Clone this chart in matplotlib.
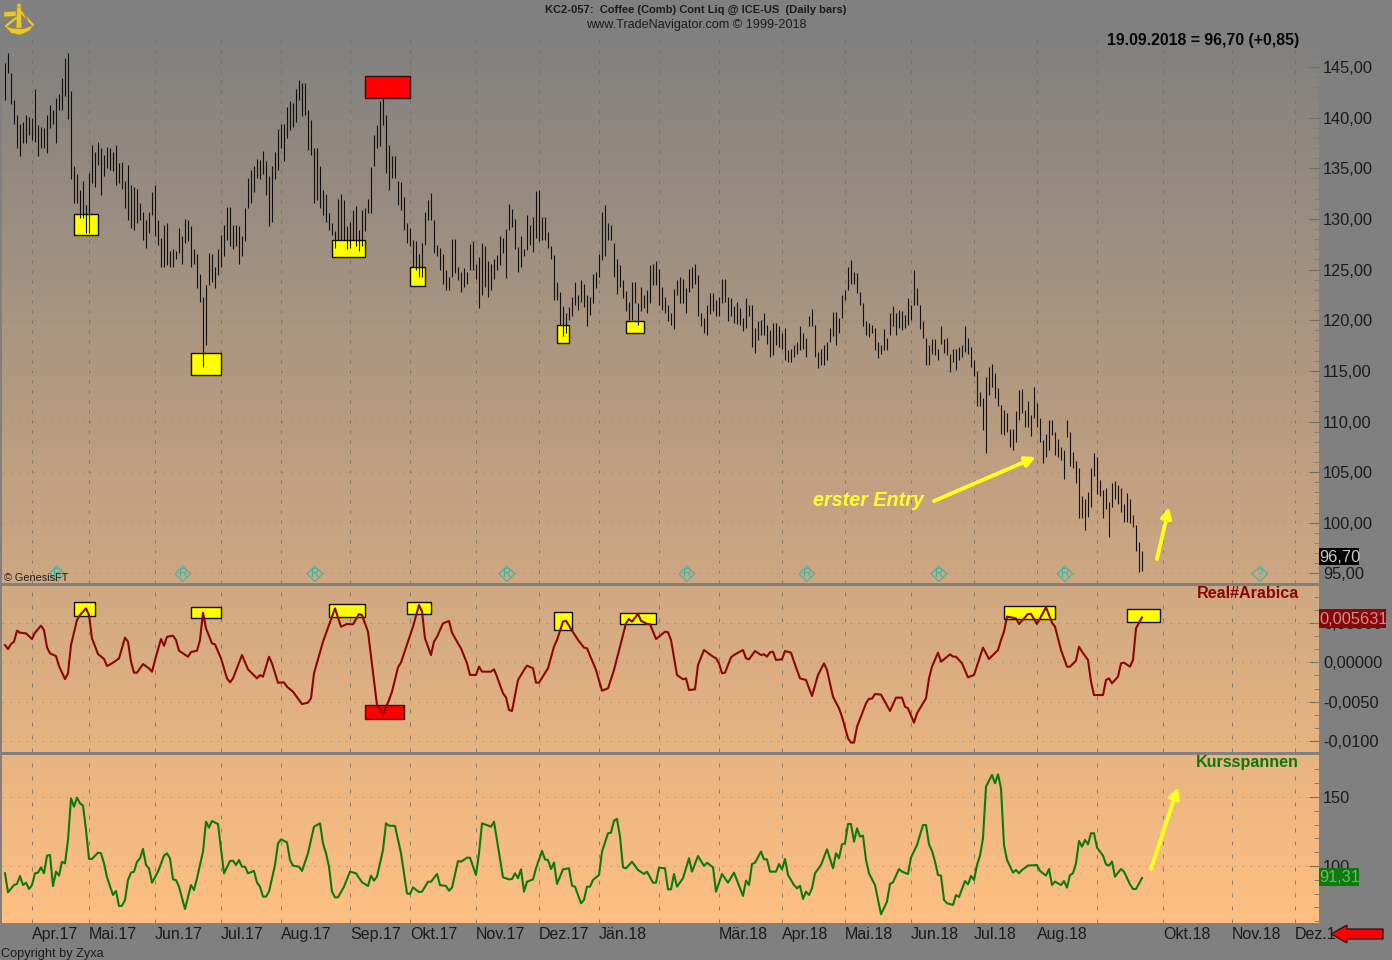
import numpy as np
import matplotlib
matplotlib.use("Agg")
import matplotlib.pyplot as plt
from matplotlib.colors import LinearSegmentedColormap
from matplotlib.patches import Rectangle, Polygon, Circle
from matplotlib.ticker import FixedLocator, FuncFormatter, NullFormatter

plt.rcParams['font.family'] = ['Liberation Sans', 'DejaVu Sans']

# ---------- data ----------
highs = [
145.4,146.4,144.4,141.7,140.3,139.4,139.6,140.3,140.1,140.0,142.8,139.3,139.1,139.0,140.3,141.2,140.8,141.9,142.3,143.9,145.9,146.4,142.6,135.2,134.4,132.9,133.7,131.4,134.5,137.3,136.6,137.6,137.0,136.3,137.1,137.0,136.6,137.3,135.5,135.6,133.7,135.3,133.4,133.2,133.0,131.6,130.7,129.9,130.7,132.7,133.4,129.9,128.1,129.4,129.6,126.8,127.0,126.8,129.1,128.3,130.0,129.9,129.3,127.0,126.5,124.6,122.3,123.5,126.6,126.5,125.3,127.0,128.4,129.4,131.2,131.2,129.4,129.4,129.3,128.3,131.1,134.0,134.8,135.2,135.9,135.8,136.7,135.7,134.2,135.2,136.6,138.9,139.4,139.4,141.1,141.6,141.4,142.8,143.7,143.4,143.4,140.8,139.8,137.0,137.0,135.2,132.9,132.5,130.6,129.6,128.8,132.0,132.5,131.9,129.3,129.7,130.9,131.3,128.9,130.9,131.1,132.0,135.1,138.3,139.3,141.6,143.2,140.3,137.3,136.2,136.2,133.7,133.6,132.2,129.6,129.1,127.9,127.8,126.5,127.6,130.7,131.9,132.6,129.9,127.4,127.1,126.5,125.0,124.3,128.0,128.0,125.3,
124.8,125.2,124.8,127.5,127.8,125.6,126.2,127.6,127.3,125.8,125.6,126.0,126.4,128.3,128.1,129.0,131.5,131.0,130.0,127.2,128.3,127.0,130.4,129.4,130.2,132.8,132.9,130.2,130.2,128.7,127.3,126.4,123.8,122.8,121.4,120.7,121.3,122.3,123.8,122.5,124.0,123.6,122.5,122.3,124.6,124.8,126.5,130.7,131.4,129.6,129.4,127.6,126.0,125.5,124.0,122.9,121.8,123.8,123.8,121.7,123.3,122.5,123.0,125.5,125.6,125.8,125.1,123.3,122.3,121.5,120.7,123.1,124.0,124.3,124.1,123.2,125.1,125.3,125.6,124.5,120.7,120.2,121.5,122.7,122.7,122.0,122.3,124.1,124.1,122.3,122.2,121.4,121.8,121.2,120.2,122.2,121.5,121.5,119.2,119.9,120.0,120.7,119.5,119.0,119.7,119.7,119.4,118.7,119.2,117.1,117.2,117.6,117.9,119.4,118.7,118.2,120.4,121.1,119.5,116.9,117.2,117.6,117.9,119.2,120.8,120.8,120.2,
122.5,123.0,125.3,125.9,124.8,124.7,122.8,121.7,119.9,119.7,119.5,119.2,117.9,117.6,119.1,118.2,120.7,121.4,120.7,121.0,120.9,120.5,122.2,121.5,125.0,123.2,121.5,119.9,118.2,117.6,118.1,118.1,117.2,119.4,118.1,118.2,116.7,117.2,117.2,117.4,117.6,119.4,118.2,117.4,116.1,115.0,112.9,112.3,114.4,115.4,115.7,114.8,113.3,111.6,111.1,110.8,109.3,109.3,111.0,113.1,113.2,111.1,112.0,110.6,113.4,111.8,110.3,108.2,108.8,110.2,110.2,109.0,108.3,107.5,107.2,110.2,109.0,107.0,106.1,105.4,102.6,102.4,103.0,105.4,106.9,106.5,104.2,103.2,103.4,102.1,103.9,104.1,103.7,103.4,101.9,102.9,102.4,100.8,99.8,98.1,97.2]
lows = [
141.7,144.4,141.3,139.4,137.0,136.2,137.5,137.5,138.3,137.8,137.6,136.2,137.0,137.0,136.5,139.0,139.4,137.5,140.8,140.8,142.1,139.9,133.9,131.6,131.6,130.1,130.1,128.6,128.6,133.5,133.2,135.3,132.4,134.2,135.0,134.8,134.7,133.4,133.5,133.0,131.1,129.9,129.1,128.9,129.6,129.9,127.9,127.1,128.6,130.4,128.3,127.4,125.3,125.3,125.5,125.3,125.3,126.0,126.6,125.6,127.6,127.8,125.3,125.6,123.2,121.8,115.4,117.6,123.5,123.8,123.2,124.5,125.3,126.3,127.9,127.3,127.0,127.3,125.6,126.3,127.8,131.1,131.6,132.7,134.0,133.9,134.4,132.4,129.3,129.7,133.9,134.8,137.0,135.7,138.0,138.8,139.1,139.6,141.7,140.2,140.3,136.8,136.3,131.6,131.9,131.1,130.4,129.7,128.9,128.4,127.1,127.9,127.9,127.9,127.0,127.1,127.9,127.3,126.8,127.3,128.8,130.6,130.6,135.2,137.0,137.2,139.3,134.5,132.9,134.0,134.0,131.4,130.9,128.9,127.6,127.3,125.3,125.0,124.3,124.3,127.4,129.9,129.9,126.6,126.3,125.0,123.6,123.0,123.0,124.3,124.7,124.0,
122.8,123.3,123.6,125.0,125.0,124.1,121.2,122.5,123.3,122.3,123.0,124.1,125.0,125.5,126.6,124.2,128.9,129.2,127.0,124.8,125.3,126.3,126.9,127.4,126.7,128.1,127.8,127.9,127.9,127.1,126.0,122.0,122.0,119.5,118.4,118.7,120.0,120.4,121.5,121.0,121.8,121.3,119.4,120.5,121.7,123.2,124.3,125.9,126.3,127.9,127.9,124.3,122.6,123.3,122.2,120.9,120.0,120.0,121.7,119.5,120.9,121.2,120.7,121.7,123.5,123.5,121.5,121.0,120.7,119.9,119.5,119.1,122.5,121.7,121.7,120.7,122.8,123.2,123.6,120.4,119.4,118.7,118.5,120.6,120.9,120.4,120.4,121.7,121.8,119.9,120.4,119.7,119.6,119.5,118.9,119.2,120.4,117.4,116.8,118.0,118.5,118.5,117.7,116.4,116.6,117.6,117.4,117.2,116.1,115.9,115.9,116.4,116.7,117.1,117.2,116.4,119.4,119.4,116.4,115.3,115.6,115.6,116.1,117.9,118.4,117.6,118.7,
120.2,122.0,123.0,123.6,123.6,122.7,121.5,119.4,118.5,118.3,118.7,117.1,116.3,116.7,117.1,117.1,118.5,119.4,118.5,119.2,119.0,119.2,119.5,120.0,121.5,121.5,119.1,118.2,115.6,115.6,116.7,116.6,116.1,117.7,116.8,116.6,114.9,115.9,115.1,116.1,116.4,116.9,116.7,115.4,114.5,111.5,111.5,109.2,106.9,112.6,113.4,112.3,111.5,108.8,108.7,109.0,107.5,107.2,108.0,110.2,110.8,109.5,109.5,108.6,110.3,109.5,108.0,105.9,106.5,107.2,108.7,106.7,106.5,106.2,104.3,108.5,105.6,105.4,103.9,100.5,100.5,99.3,100.6,101.6,104.6,102.8,102.6,100.5,101.4,98.6,101.6,102.4,101.9,101.1,100.1,100.1,100.0,99.6,97.2,95.1,95.2]
assert len(highs) == len(lows)

# oscillator turning points: bar number, value in thousandths
real_bar = [0,1,2,3,4,5,7,9,10,12,13,14,15,17,18,20,21,22,24,25,27,28,29,31,33,34,36,38,40,41,42,43,44,46,48,49,50,52,53,54,56,57,58,61,62,64,65,66,67,69,70,72,74,75,76,79,81,84,85,86,88,89,91,93,94,96,99,101,102,103,106,108,110,112,114,116,118,119,121,123,124,126,128,129,131,132,136,138,139,140,142,143,144,146,148,149,151,
152,154,155,157,158,159,162,163,164,166,167,168,169,171,173,174,176,177,178,181,183,184,186,187,189,191,193,194,197,199,201,203,204,207,208,209,211,212,214,215,217,218,220,221,222,224,226,227,228,230,231,233,234,236,237,238,239,240,242,243,246,247,248,250,252,253,254,255,256,257,259,260,262,263,265,267,269,271,273,274,276,278,
279,281,282,283,284,287,288,289,290,292,295,297,299,300,301,303,304,307,308,309,311,312,313,315,316,317,319,321,323,326,328,331,332,333,334,337,338,341,342,344,347,349,350,352,354,355,357,358,359,361,362,363,366,367,368,369,371,372,373,375,376,377,379]
real_val = [2.15,1.64,2.27,2.57,3.96,3.71,3.62,2.91,3.71,4.6,4.05,1.85,1.09,0.75,-0.51,-2.16,-1.44,2.15,5.31,5.95,6.79,5.95,2.99,1.01,0.38,-0.51,-0.09,0.46,3.08,2.57,0.04,-1.35,-1.35,-0.26,-0.81,-1.23,0.25,2.91,2.06,3.2,3.33,2.78,1.43,0.67,1.26,1.43,2.78,6.24,4.26,2.36,2.23,0.46,-2.07,-2.58,-2.07,0.88,-0.93,-2.07,-1.65,-1.86,0.67,-0.17,-2.62,-2.58,-3.13,-3.76,-5.32,-5.15,-4.6,-1.44,2.57,4.68,6.79,4.47,4.81,4.76,6.07,5.95,3.84,-2.28,-5.45,-6.59,-4.81,-3.76,-0.68,-0.05,4.47,7.21,6.37,2.99,0.88,2.57,3.2,4.89,5.19,3.71,2.36,
1.73,-0.17,-1.64,-1.64,-0.59,-1.22,-1.22,-0.93,-1.85,-3.96,-4.47,-6.07,-6.2,-2.28,-1.01,-0.46,-0.8,-2.61,-2.61,-0.8,1.94,2.79,5.11,5.23,3.97,2.79,1.82,1.73,-1.01,-3.63,-3.33,-1.01,0.47,4.9,5.44,5.11,6.08,5.23,4.81,4.81,2.91,3.21,3.84,3.76,2.79,-1.64,-2.19,-2.07,-3.54,-3.46,-0.38,1.52,1.23,0.68,0.47,-0.17,-1.43,-1.35,0.59,0.89,1.52,0.47,0.34,1.39,0.89,0.97,0.68,1.23,1.31,0.26,0.34,1.39,1.18,0.04,-2.07,-2.28,-4.3,-1.64,-0.17,-1.01,-4.39,-5.86,
-6.92,-9.66,-10.2,-10.2,-8.2,-5.23,-4.64,-4.64,-4.05,-4.13,-6.2,-4.51,-4.51,-5.65,-5.86,-7.68,-6.5,-4.6,-2.07,-0.59,1.18,0.04,0.34,0.97,0.68,0.68,-0.17,-1.94,-1.64,1.82,0.38,1.52,2.79,3.84,5.74,5.53,4.81,6.08,6.08,4.81,6.92,4.98,4.47,1.52,-0.59,-0.59,0.17,1.94,1.31,0.26,-2.49,-4.18,-4.18,-2.28,-2.07,-2.7,-1.85,-0.17,-0.08,-0.59,0.26,4.26,5.631]
assert len(real_bar) == len(real_val)

span_bar = [0,1,3,4,5,6,7,8,9,10,11,12,13,14,15,16,17,18,19,20,21,22,23,24,25,26,27,28,29,31,32,33,34,36,37,38,39,40,41,42,43,44,45,46,47,48,49,51,53,54,55,56,57,58,60,62,63,64,66,67,68,69,71,72,73,75,76,77,78,79,80,81,83,84,85,86,87,88,90,91,92,94,95,96,98,99,101,103,105,106,107,108,109,110,111,113,115,117,119,121,122,123,124,126,127,128,130,132,134,135,136,138,139,141,142,144,145,147,148,149,151,152,
154,155,157,158,159,162,163,166,168,169,170,171,172,173,174,176,177,179,180,181,182,183,184,186,188,189,190,192,193,194,195,196,198,199,201,202,203,204,205,206,207,209,211,213,214,216,217,218,220,221,222,223,224,226,228,229,231,233,234,236,237,239,241,243,246,247,248,249,250,252,253,254,255,257,258,259,260,261,263,264,265,266,267,268,269,270,272,274,276,277,278,
279,280,281,282,283,284,285,286,287,288,290,292,294,295,296,298,299,301,302,304,306,307,308,309,310,311,312,313,314,316,317,318,320,321,322,323,324,325,326,327,329,330,331,332,333,334,336,337,338,339,341,344,345,347,348,349,350,352,353,354,355,356,357,358,359,360,361,362,363,364,366,367,368,369,370,372,373,375,376,377,379]
span_val = [94.7,80.9,86.2,87.0,92.7,86.2,87.9,83.3,86.2,94.7,95.2,99.0,94.7,107.5,108.0,85.5,95.9,93.0,103.1,101.9,118.8,149.0,143.0,149.5,145.4,143.7,126.1,105.1,105.1,109.7,109.2,101.9,91.8,79.0,81.9,71.0,71.2,75.3,89.8,95.2,95.9,103.1,105.5,112.3,100.7,98.3,87.9,95.9,107.5,109.2,105.5,90.3,89.8,85.0,68.8,86.2,82.6,91.1,110.4,132.1,127.8,132.6,130.4,112.8,94.7,103.6,103.9,100.7,104.3,99.5,99.5,94.7,96.4,87.9,85.0,77.8,77.8,81.4,100.7,116.4,119.3,117.1,104.3,100.2,99.5,96.4,109.2,128.5,130.9,116.4,109.2,99.5,81.4,77.3,77.3,85.0,95.9,94.7,88.2,85.5,93.0,89.4,92.3,111.6,130.9,129.2,129.0,109.2,80.2,79.7,84.5,81.1,81.4,88.6,88.6,94.2,86.2,85.5,82.1,84.3,103.6,103.1,
106.0,106.0,93.5,109.2,130.9,128.5,132.1,91.8,90.3,90.6,94.7,91.1,97.6,81.4,88.6,90.3,98.3,110.9,104.8,104.3,97.8,102.4,87.0,97.6,98.3,85.7,85.0,73.0,75.4,85.0,85.0,89.9,93.5,110.4,123.7,124.2,132.8,134.1,121.3,99.0,98.3,103.1,97.1,94.2,95.9,87.9,87.9,98.8,98.3,83.1,83.1,94.2,85.0,91.1,105.6,95.9,107.2,100.0,102.4,99.0,81.4,94.2,87.9,95.2,78.3,89.4,86.2,101.4,102.4,110.4,104.8,104.8,95.9,95.9,101.4,97.6,105.1,93.5,86.2,83.8,85.7,76.1,81.4,79.0,83.8,94.7,100.7,112.1,98.3,109.2,105.6,
115.7,116.4,130.4,130.4,117.6,127.3,121.3,122.0,104.4,94.7,86.2,65.0,74.2,87.0,88.2,97.8,95.9,94.2,106.1,115.2,129.7,129.7,115.7,110.9,103.2,93.5,93.0,75.4,73.0,71.8,79.0,77.5,89.1,86.7,92.8,89.9,100.7,107.5,120.1,157.5,166.0,159.9,166.4,156.3,115.2,104.4,95.2,97.1,94.7,97.1,100.3,100.7,96.4,93.0,97.8,86.2,88.7,86.2,89.1,84.3,93.5,94.7,101.9,118.1,114.0,118.9,115.7,123.7,123.7,113.3,107.5,101.2,100.3,103.2,92.3,97.8,95.9,86.7,83.3,83.3,91.31]
assert len(span_bar) == len(span_val)

# month starts (bar number) and their labels
month_bars = [9,28,50,72,92,115,135,157,178,198,218,238,259,280,302,323,344,364,386,409,430]
month_labels = ['Apr.17','Mai.17','Jun.17','Jul.17','Aug.17','Sep.17','Okt.17','Nov.17','Dez.17','J\u00e4n.18','',
                'M\u00e4r.18','Apr.18','Mai.18','Jun.18','Jul.18','Aug.18','','Okt.18','Nov.18','Dez.1']

price_ticks = [95,100,105,110,115,120,125,130,135,140,145]
real_ticks = [0.005,0.0,-0.005,-0.01]
real_labels = ['0,00500','0,00000','-0,0050','-0,0100']
span_ticks = [100,150]

# highlighted boxes: first bar, last bar, low, high
price_yellow = [(23,31,128.42,130.49),(62,72,114.6,116.77),(109,120,126.24,127.92),
                (135,140,123.38,125.26),(184,188,117.75,119.53),(207,213,118.74,119.93)]
price_red = [(120,135,141.94,144.11)]
real_yellow = [(23,30,5.82,7.59),(62,72,5.57,6.96),(108,120,5.70,7.34),(134,142,6.08,7.59),
               (183,189,4.05,6.33),(205,217,4.81,6.2),(333,350,5.44,7.09),(374,385,5.06,6.7)]
real_red = [(120,133,-7.22,-5.44)]
event_bars = [17.3,59.3,103.3,167.3,227.3,267.3,311.3,353.3,418.3]
event_marks = ['R','R','R','R','R','R','R','R','?']
event_level = 94.96

# ---------- layout ----------
W, H = 1392, 960
def box(x0, y0, x1, y1):
    return [x0/W, 1-y1/H, (x1-x0)/W, (y1-y0)/H]

GRAY = '#808080'
fig = plt.figure(figsize=(W/100, H/100), dpi=100, facecolor=GRAY)

bg = fig.add_axes(box(2, 32, 1319, 923), zorder=0)
cmap = LinearSegmentedColormap.from_list('g', ['#808080', '#ffc082'])
bg.imshow(np.linspace(0, 1, 256)[:, None], aspect='auto', cmap=cmap, vmin=0, vmax=1)
bg.axis('off')

ax1 = fig.add_axes(box(2, 32, 1319, 583), zorder=1, facecolor='none')
ax2 = fig.add_axes(box(2, 586, 1319, 752), zorder=1, facecolor='none')
ax3 = fig.add_axes(box(2, 755, 1319, 923), zorder=1, facecolor='none')
ax1.set_ylim(94.06, 148.455)
ax2.set_ylim(-0.01139, 0.00962)
ax3.set_ylim(58.7, 180.4)

TXT = '#1c1c1c'
GRID = '#6a6a60'
for ax, vdash, hal in ((ax1, (3, 7), 0.55), (ax2, (4, 9), 0.6), (ax3, (4, 9), 0.6)):
    ax.set_xlim(-1, 438)
    for s in ax.spines.values():
        s.set_visible(False)
    ax.set_xticks(month_bars)
    ax.set_xticklabels([])
    ax.tick_params(axis='x', length=0)
    ax.yaxis.tick_right()
    ax.tick_params(axis='y', which='major', direction='in', length=7, width=0.8, color='#706e64',
                   labelsize=11.8, labelcolor=TXT, pad=3)
    ax.tick_params(axis='y', which='minor', direction='in', length=3.5, width=0.7, color='#807d72')
    ax.grid(True, axis='x', color=GRID, lw=0.72, ls=(0, vdash), alpha=0.75)
    ax.grid(True, axis='y', color=GRID, lw=0.72, ls=(0, (1, 7)), alpha=hal)
    ax.set_axisbelow(True)

ax1.set_yticks(price_ticks)
ax1.yaxis.set_major_formatter(FuncFormatter(lambda v, p: f'{v:.2f}'.replace('.', ',')))
ax1.yaxis.set_minor_locator(FixedLocator(np.arange(95, 149, 1)))
ax1.yaxis.set_minor_formatter(NullFormatter())

ax2.set_yticks(real_ticks)
ax2.set_yticklabels(real_labels)
ax2.yaxis.set_minor_locator(FixedLocator(np.arange(-0.010, 0.0095, 0.00166)))

ax3.set_yticks(span_ticks)
ax3.set_yticklabels([str(t) for t in span_ticks])
ax3.yaxis.set_minor_locator(FixedLocator(np.arange(60, 180, 10)))

ax3.set_xticklabels(month_labels, ha='left', fontsize=11.5, color=TXT)
ax3.tick_params(axis='x', pad=3)

# highlight boxes
for (a, b, lo, hi) in price_yellow:
    ax1.add_patch(Rectangle((a, lo), b-a, hi-lo, fc='#ffff00', ec='#101010', lw=1, zorder=2))
for (a, b, lo, hi) in price_red:
    ax1.add_patch(Rectangle((a, lo), b-a, hi-lo, fc='#ff0000', ec='#301010', lw=1, zorder=2))
for (a, b, lo, hi) in real_yellow:
    ax2.add_patch(Rectangle((a, lo/1000), b-a, (hi-lo)/1000, fc='#ffff00', ec='#101010', lw=1, zorder=2))
for (a, b, lo, hi) in real_red:
    ax2.add_patch(Rectangle((a, lo/1000), b-a, (hi-lo)/1000, fc='#ff0000', ec='#301010', lw=1, zorder=2))

# price bars
ax1.vlines(np.arange(len(highs)), lows, highs, color='#101010', lw=0.8, zorder=3, snap=True)

# event markers
TEAL = '#3fb3a3'
ax1.scatter(event_bars, [event_level]*len(event_bars), marker='D', s=62, facecolors='none',
            edgecolors=TEAL, linewidths=0.8, zorder=3, clip_on=False)
for b, m in zip(event_bars, event_marks):
    ax1.text(b, event_level, m, color=TEAL, fontsize=8.5, ha='center', va='center', zorder=3)

# oscillators
ax2.plot(real_bar, np.array(real_val)/1000, color='#8a0606', lw=1.5, zorder=3)
ax3.plot(span_bar, span_val, color='#0d7a0d', lw=1.5, zorder=3)

# ---------- overlay in picture pixels: texts, tags, arrows ----------
ov = fig.add_axes([0, 0, 1, 1], zorder=5, facecolor='none')
ov.set_xlim(0, W)
ov.set_ylim(H, 0)
ov.axis('off')

ov.add_patch(Rectangle((0, 583), 1319, 3, fc=GRAY, ec='none'))
ov.add_patch(Rectangle((0, 752), 1319, 3, fc=GRAY, ec='none'))

ov.text(696, 10, 'KC2-057:  Coffee (Comb) Cont Liq @ ICE-US  (Daily bars)', fontsize=8.05, fontweight='bold',
        ha='center', va='center', color=TXT)
ov.text(696, 25, 'www.TradeNavigator.com \u00a9 1999-2018', fontsize=9.1, ha='center', va='center', color=TXT)
ov.text(1299, 40.5, '19.09.2018 = 96,70 (+0,85)', fontsize=11.4, fontweight='bold', ha='right', va='center', color='#050505')
ov.text(4, 578, '\u00a9 GenesisFT', fontsize=7.8, ha='left', va='center', color=TXT)
ov.text(1, 953.5, 'Copyright by Zyxa', fontsize=9.2, ha='left', va='center', color=TXT)
ov.text(1299, 594, 'Real#Arabica', fontsize=11.6, fontweight='bold', ha='right', va='center', color='#8a0606')
ov.text(1299, 763, 'Kursspannen', fontsize=11.6, fontweight='bold', ha='right', va='center', color='#0d7a0d')
ov.text(813, 501, 'erster Entry', fontsize=14.2, fontweight='bold', fontstyle='italic', ha='left', va='center', color='#ffff30')

for (x0, y0, x1, y1, fc, tc, s) in [(1319, 548, 1359, 565, '#000000', '#c8c8c8', '96,70'),
                                    (1319, 609, 1386, 628, '#8a0606', '#c89090', '0,005631'),
                                    (1319, 868, 1359, 886, '#0d7a0d', '#70b870', '91,31')]:
    ov.add_patch(Rectangle((x0, y0), x1-x0, y1-y0, fc=fc, ec='none'))
    ov.text(x0, (y0+y1)/2+0.5, s, fontsize=11.8, color=tc, ha='left', va='center')

for (x0, y0, x1, y1) in [(934, 501, 1036, 457), (1157, 559, 1169, 507), (1151, 869, 1178, 787)]:
    ov.annotate('', xy=(x1, y1), xytext=(x0, y0),
                arrowprops=dict(arrowstyle='-|>', color='#ffff20', lw=2.8, mutation_scale=15, shrinkA=0, shrinkB=0))

# red arrow bottom right
ov.add_patch(Polygon([(1331, 934), (1347, 925), (1347, 929), (1383, 929), (1383, 939), (1347, 939), (1347, 943)],
                     closed=True, fc='#ff0000', ec='#301010', lw=0.9))

# sextant logo
GOLD, GOLD2 = '#e6c832', '#a88a18'
ov.add_patch(Polygon([(4, 12), (16, 11), (16, 16), (4, 17)], closed=True, fc=GOLD, ec=GOLD2, lw=0.4))
ov.add_patch(Circle((19, 5.5), 2.2, fc=GOLD, ec=GOLD2, lw=0.4))
ov.add_patch(Polygon([(17, 7), (21, 7), (22, 28), (16, 28)], closed=True, fc=GOLD, ec=GOLD2, lw=0.4))
ov.plot([16, 6], [18, 26], color=GOLD, lw=1.6, solid_capstyle='round')
ov.plot([21, 33], [12, 25], color=GOLD, lw=1.6, solid_capstyle='round')
ov.plot([24, 27], [12, 20], color=GOLD2, lw=1.2)
ov.add_patch(Polygon([(4, 25), (11, 28), (23, 29), (34, 25), (29, 31), (20, 35), (11, 33)],
                     closed=True, fc=GOLD, ec=GOLD2, lw=0.4))

fig.savefig('out.png', dpi=100, facecolor=fig.get_facecolor())
